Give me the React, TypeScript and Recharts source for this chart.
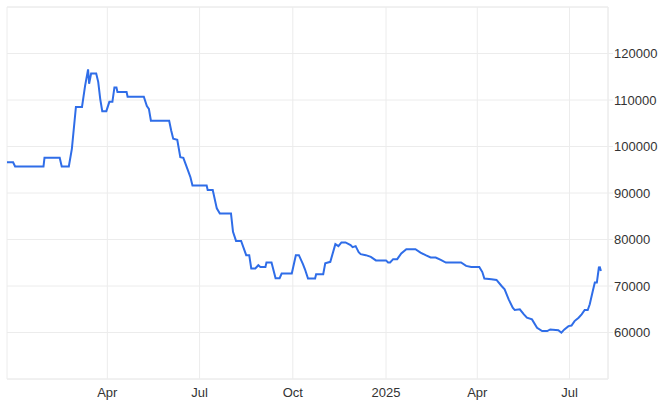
import React from 'react';
import {
  LineChart,
  Line,
  XAxis,
  YAxis,
  CartesianGrid,
  ReferenceLine,
} from 'recharts';

// dates of the price points
const dates = [
  '2023-12-24', '2023-12-30', '2024-01-01', '2024-01-29', '2024-01-30', '2024-02-14', '2024-02-16', '2024-02-23', '2024-02-26', '2024-03-01',
  '2024-03-07', '2024-03-10', '2024-03-13', '2024-03-14', '2024-03-16', '2024-03-21', '2024-03-23', '2024-03-25', '2024-03-27', '2024-03-31',
  '2024-04-03', '2024-04-06', '2024-04-08', '2024-04-10', '2024-04-11', '2024-04-20', '2024-04-21', '2024-05-07', '2024-05-10', '2024-05-12',
  '2024-05-14', '2024-06-01', '2024-06-03', '2024-06-05', '2024-06-09', '2024-06-12', '2024-06-15', '2024-06-19', '2024-06-22', '2024-06-24',
  '2024-07-08', '2024-07-09', '2024-07-14', '2024-07-18', '2024-07-21', '2024-08-01', '2024-08-03', '2024-08-06', '2024-08-11', '2024-08-16',
  '2024-08-19', '2024-08-21', '2024-08-25', '2024-08-28', '2024-08-30', '2024-09-04', '2024-09-05', '2024-09-10', '2024-09-14', '2024-09-18',
  '2024-09-20', '2024-09-30', '2024-10-04', '2024-10-07', '2024-10-11', '2024-10-13', '2024-10-16', '2024-10-23', '2024-10-24', '2024-10-31',
  '2024-11-02', '2024-11-07', '2024-11-12', '2024-11-15', '2024-11-18', '2024-11-22', '2024-11-27', '2024-11-29', '2024-12-02', '2024-12-05',
  '2024-12-07', '2024-12-12', '2024-12-17', '2024-12-22', '2025-01-01', '2025-01-03', '2025-01-05', '2025-01-08', '2025-01-12', '2025-01-16',
  '2025-01-21', '2025-01-30', '2025-02-04', '2025-02-09', '2025-02-14', '2025-02-19', '2025-02-24', '2025-03-01', '2025-03-16', '2025-03-21',
  '2025-03-26', '2025-04-03', '2025-04-06', '2025-04-08', '2025-04-15', '2025-04-20', '2025-04-25', '2025-04-28', '2025-05-02', '2025-05-06',
  '2025-05-08', '2025-05-13', '2025-05-17', '2025-05-20', '2025-05-25', '2025-05-30', '2025-06-04', '2025-06-09', '2025-06-12', '2025-06-20',
  '2025-06-23', '2025-06-26', '2025-06-30', '2025-07-03', '2025-07-06', '2025-07-10', '2025-07-13', '2025-07-16', '2025-07-19', '2025-07-21',
  '2025-07-24', '2025-07-26', '2025-07-28', '2025-07-30', '2025-07-31', '2025-08-01',
];

const prices = [
  96600, 96600, 95700, 95700, 97600, 97600, 95700, 95700, 99500, 108500,
  108500, 113000, 116600, 113500, 115700, 115700, 113900, 110200, 107600, 107600,
  109600, 109600, 112700, 112700, 111700, 111700, 110700, 110700, 108700, 108100,
  105550, 105550, 103450, 101660, 101440, 97700, 97560, 95190, 93400, 91600,
  91600, 90660, 90660, 86700, 85600, 85600, 81650, 79700, 79700, 76630,
  76630, 73760, 73760, 74470, 74100, 74100, 75050, 75050, 71670, 71670,
  72680, 72680, 76630, 76630, 74690, 73600, 71600, 71600, 72530, 72530,
  74900, 75200, 79000, 78570, 79370, 79370, 78800, 78350, 78570, 77280,
  76850, 76630, 76260, 75500, 75500, 75050, 75050, 75770, 75770, 77000,
  77920, 77920, 77200, 76630, 76130, 76130, 75620, 75050, 75050, 74320,
  74100, 74100, 73000, 71600, 71450, 71300, 70000, 69290, 67130, 65340,
  64830, 64980, 63900, 63180, 62820, 61030, 60300, 60300, 60660, 60500,
  59950, 60660, 61370, 61500, 62450, 63180, 63900, 64830, 64830, 66060,
  68930, 70740, 70740, 73980, 74000, 73240,
];

const xTickDates = ['2024-04-01', '2024-07-01', '2024-10-01', '2025-01-01', '2025-04-01', '2025-07-01'];
const yTicks = [60000, 70000, 80000, 90000, 100000, 110000, 120000];
const monthNames = ['Jan', 'Feb', 'Mar', 'Apr', 'May', 'Jun', 'Jul', 'Aug', 'Sep', 'Oct', 'Nov', 'Dec'];

const toTs = (d: string) => Date.parse(d + 'T00:00:00Z');

const data = dates.map((d, i) => ({ t: toTs(d), price: prices[i] }));
const xTicks = xTickDates.map(toTs);

const formatX = (ts: number) => {
  const d = new Date(ts);
  const m = d.getUTCMonth();
  return m === 0 ? String(d.getUTCFullYear()) : monthNames[m];
};

const GRID = '#ececec';
const FONT = '"Liberation Sans", Arial, sans-serif';

export default function App() {
  return (
    <div style={{ position: 'absolute', left: 0, top: 0, background: '#fff' }}>
      <LineChart
        width={660}
        height={414}
        data={data}
        margin={{ top: 7, right: 4, left: 7, bottom: 5 }}
      >
        <CartesianGrid stroke={GRID} strokeWidth={1} />
        <ReferenceLine y={130000} stroke={GRID} />
        <XAxis
          dataKey="t"
          type="number"
          scale="time"
          domain={['dataMin', toTs('2025-08-08')]}
          ticks={xTicks}
          tickFormatter={formatX}
          height={30}
          axisLine={{ stroke: GRID }}
          tickLine={false}
          tickSize={7}
          tickMargin={2}
          tick={{ fontSize: 13, fill: '#333', fontFamily: FONT }}
        />
        <YAxis
          orientation="right"
          type="number"
          domain={[50000, 130000]}
          ticks={yTicks}
          width={48}
          axisLine={{ stroke: GRID }}
          tickLine={{ stroke: GRID }}
          tickSize={5}
          tickMargin={1}
          tick={{ fontSize: 13, fill: '#333', fontFamily: FONT, textAnchor: 'start' }}
        />
        <Line
          type="linear"
          dataKey="price"
          stroke="#2f6de8"
          strokeWidth={2}
          dot={false}
          isAnimationActive={false}
        />
      </LineChart>
    </div>
  );
}
